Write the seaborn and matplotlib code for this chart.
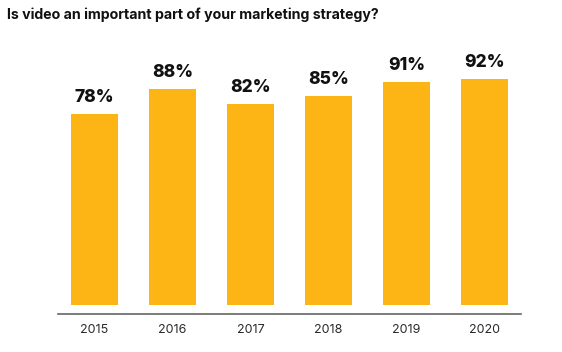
import matplotlib
matplotlib.use("Agg")
import matplotlib.pyplot as plt
import seaborn as sns
import pandas as pd

years = ["2015", "2016", "2017", "2018", "2019", "2020"]
values = [78, 88, 82, 85, 91, 92]
title = "Is video an important part of your marketing strategy?"

sns.set_style("white")
plt.rcParams['font.family'] = ['Inter', 'DejaVu Sans']

W, H = 562, 352
fig = plt.figure(figsize=(W / 100, H / 100), dpi=100)
ax = fig.add_axes([58 / W, 38 / H, (521 - 58) / W, (314 - 59.5) / H])

df = pd.DataFrame({"year": years, "value": values})
sns.barplot(data=df, x="year", y="value", color="#FDB515", saturation=1,
            width=0.6, ax=ax, edgecolor="none")

ax.set_ylim(-3.67, 100)
ax.set_xlim(-0.468, 5.468)
for s in ["top", "right", "left"]:
    ax.spines[s].set_visible(False)
ax.spines["bottom"].set_color("#666666")
ax.spines["bottom"].set_linewidth(1.2)
ax.set_yticks([])
ax.set_xlabel("")
ax.set_ylabel("")
ax.tick_params(axis="x", length=0, pad=7, labelsize=9, labelcolor="#2a2a2a")

for i, v in enumerate(values):
    ax.annotate(f"{v}%", xy=(i, v), xytext=(0, 8.6), textcoords="offset points",
                ha="center", va="baseline", fontsize=12.5, fontweight="heavy",
                color="#111111")

fig.text(7 / W, 1 - 15 / H, title, ha="left", va="center", fontsize=10.2,
         fontweight="bold", color="#111111")

fig.savefig("out.png", dpi=100)
